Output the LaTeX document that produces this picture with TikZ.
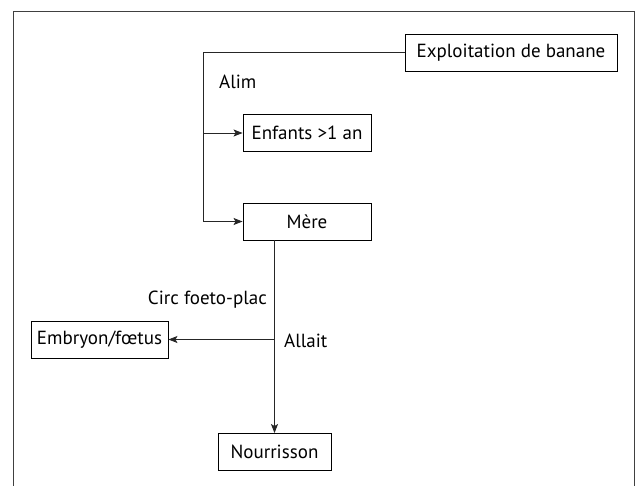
\documentclass[tikz,border=0pt]{standalone}
\usepackage{fontspec}
\setmainfont{PT Sans}
\usetikzlibrary{arrows.meta}
\begin{document}
\begin{tikzpicture}[x=1pt,y=-1pt,
  every node/.style={font=\fontsize{19}{22}\selectfont, text=black},
  boxnode/.style={draw, line width=0.9pt, inner sep=0pt, minimum height=37pt},
  conn/.style={line width=0.8pt, draw=black!85},
  arr/.style={conn, -{Stealth[length=9pt,width=7pt,inset=2pt]}},
  lbl/.style={inner sep=0pt}]
\useasboundingbox (0,0) rectangle (640,485);
\draw[line width=1pt, draw=black!75] (13,486) -- (13,11) -- (634,11) -- (634,486);
\node[boxnode, minimum width=212pt] (banane) at (511,52.5) {Exploitation de banane};
\node[boxnode, minimum width=128pt] (enfants) at (307,133) {Enfants >1 an};
\node[boxnode, minimum width=128pt] (mere) at (307,221.5) {Mère};
\node[boxnode, minimum width=137pt] (embryon) at (99.5,339.5) {Embryon/fœtus};
\node[boxnode, minimum width=113pt] (nourr) at (274.5,452) {Nourrisson};
\coordinate (c1) at (203,52.5);
\coordinate (c2) at (203,133);
\coordinate (c3) at (203,221.5);
\coordinate (m1) at (274.5,240);
\coordinate (m2) at (274.5,339.5);
\draw[conn] (banane.west) -- (c1) -- (c3);
\draw[arr] (c2) -- (enfants.west);
\draw[arr] (c3) -- (mere.west);
\draw[arr] (m1) -- (nourr.north);
\draw[arr] (m2) -- (embryon.east);
\node[lbl, anchor=west] (alim) at (219,82) {Alim};
\node[lbl, anchor=east] (circ) at (267,300) {Circ foeto-plac};
\node[lbl, anchor=west] (allait) at (284,341) {Allait};
\end{tikzpicture}
\end{document}
